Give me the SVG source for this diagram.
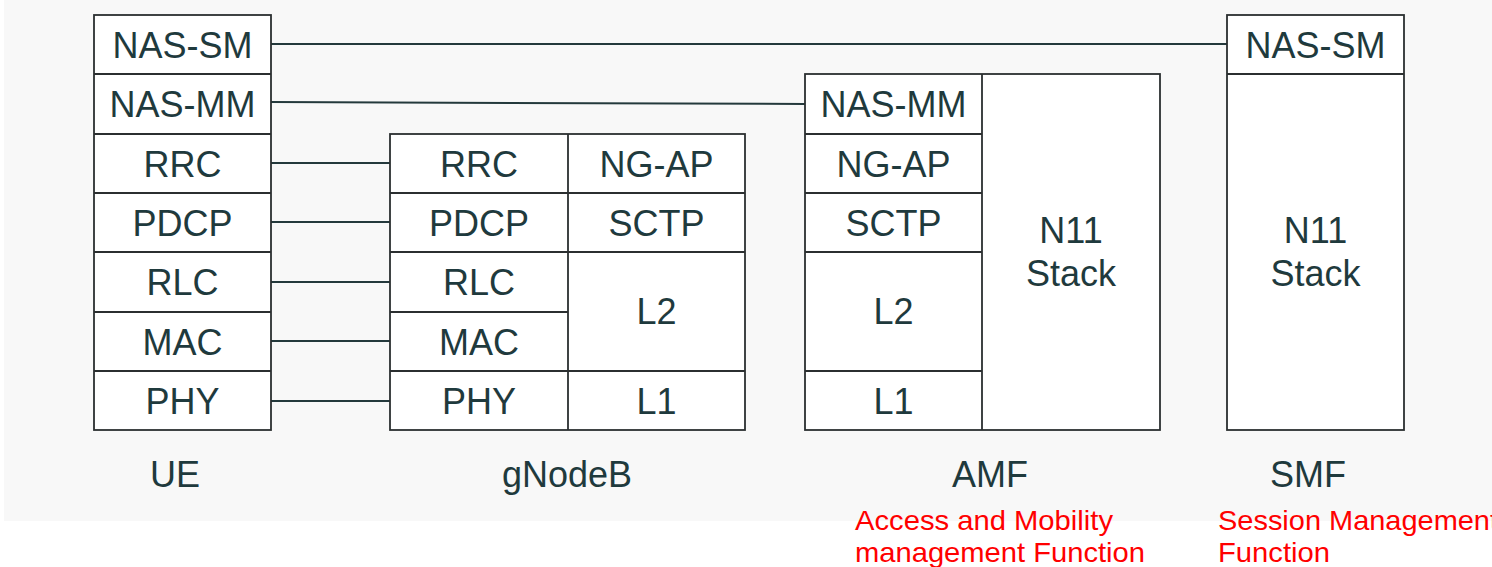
<svg xmlns="http://www.w3.org/2000/svg" width="1492" height="567" viewBox="0 0 1492 567">
<style>
.cell{fill:#fff;stroke:#2b2f30;stroke-width:1.8}
.div{stroke:#2b2f30;stroke-width:1.8;fill:none}
.t{font-family:"Liberation Sans",Arial,sans-serif;font-size:36px;fill:#1f3a3d;text-anchor:middle}
.lbl{font-family:"Liberation Sans",Arial,sans-serif;font-size:36px;fill:#1f3a3d;text-anchor:middle}
.red{font-family:"Liberation Sans",Arial,sans-serif;font-size:28px;fill:#ff0000}
.conn{stroke:#24393c;stroke-width:2;fill:none}
</style>
<rect x="4" y="0" width="1488" height="521" fill="#f8f8f8"/>
<g id="connectors">
<line class="conn" x1="271" y1="44" x2="1227" y2="44"/>
<line class="conn" x1="271" y1="102" x2="805" y2="104"/>
<line class="conn" x1="271" y1="163" x2="390" y2="163"/>
<line class="conn" x1="271" y1="222" x2="390" y2="222"/>
<line class="conn" x1="271" y1="282" x2="390" y2="282"/>
<line class="conn" x1="271" y1="341" x2="390" y2="341"/>
<line class="conn" x1="271" y1="401" x2="390" y2="401"/>
</g>
<g id="UE">
<rect class="cell" x="94" y="15" width="177" height="415"/>
<path class="div" d="M94 74H271M94 134H271M94 193H271M94 252H271M94 312H271M94 371H271"/>
<text class="t" x="182.5" y="57.5">NAS-SM</text>
<text class="t" x="182.5" y="117">NAS-MM</text>
<text class="t" x="182.5" y="176.5">RRC</text>
<text class="t" x="182.5" y="235.5">PDCP</text>
<text class="t" x="182.5" y="295">RLC</text>
<text class="t" x="182.5" y="354.5">MAC</text>
<text class="t" x="182.5" y="413.5">PHY</text>
<text class="lbl" x="175" y="487">UE</text>
</g>
<g id="gNodeB">
<rect class="cell" x="390" y="134" width="355" height="296"/>
<path class="div" d="M568 134V430M390 193H745M390 252H745M390 312H568M390 371H745"/>
<text class="t" x="479" y="176.5">RRC</text>
<text class="t" x="479" y="235.5">PDCP</text>
<text class="t" x="479" y="295">RLC</text>
<text class="t" x="479" y="354.5">MAC</text>
<text class="t" x="479" y="413.5">PHY</text>
<text class="t" x="656.5" y="176.5">NG-AP</text>
<text class="t" x="656.5" y="235.5">SCTP</text>
<text class="t" x="656.5" y="324">L2</text>
<text class="t" x="656.5" y="413.5">L1</text>
<text class="lbl" x="567" y="487">gNodeB</text>
</g>
<g id="AMF">
<rect class="cell" x="805" y="74" width="355" height="356"/>
<path class="div" d="M982 74V430M805 134H982M805 193H982M805 252H982M805 371H982"/>
<text class="t" x="893.5" y="117">NAS-MM</text>
<text class="t" x="893.5" y="176.5">NG-AP</text>
<text class="t" x="893.5" y="235.5">SCTP</text>
<text class="t" x="893.5" y="324">L2</text>
<text class="t" x="893.5" y="413.5">L1</text>
<text class="t" x="1071" y="243">N11</text>
<text class="t" x="1071" y="286">Stack</text>
<text class="lbl" x="990" y="487">AMF</text>
<text class="red" x="855" y="530" textLength="258" lengthAdjust="spacingAndGlyphs">Access and Mobility</text>
<text class="red" x="855" y="562" textLength="290" lengthAdjust="spacingAndGlyphs">management Function</text>
</g>
<g id="SMF">
<rect class="cell" x="1227" y="15" width="177" height="415"/>
<path class="div" d="M1227 74H1404"/>
<text class="t" x="1315.5" y="57.5">NAS-SM</text>
<text class="t" x="1315.5" y="243">N11</text>
<text class="t" x="1315.5" y="286">Stack</text>
<text class="lbl" x="1308" y="487">SMF</text>
<text class="red" x="1218" y="530" textLength="280" lengthAdjust="spacingAndGlyphs">Session Management</text>
<text class="red" x="1218" y="562" textLength="112" lengthAdjust="spacingAndGlyphs">Function</text>
</g>
</svg>
